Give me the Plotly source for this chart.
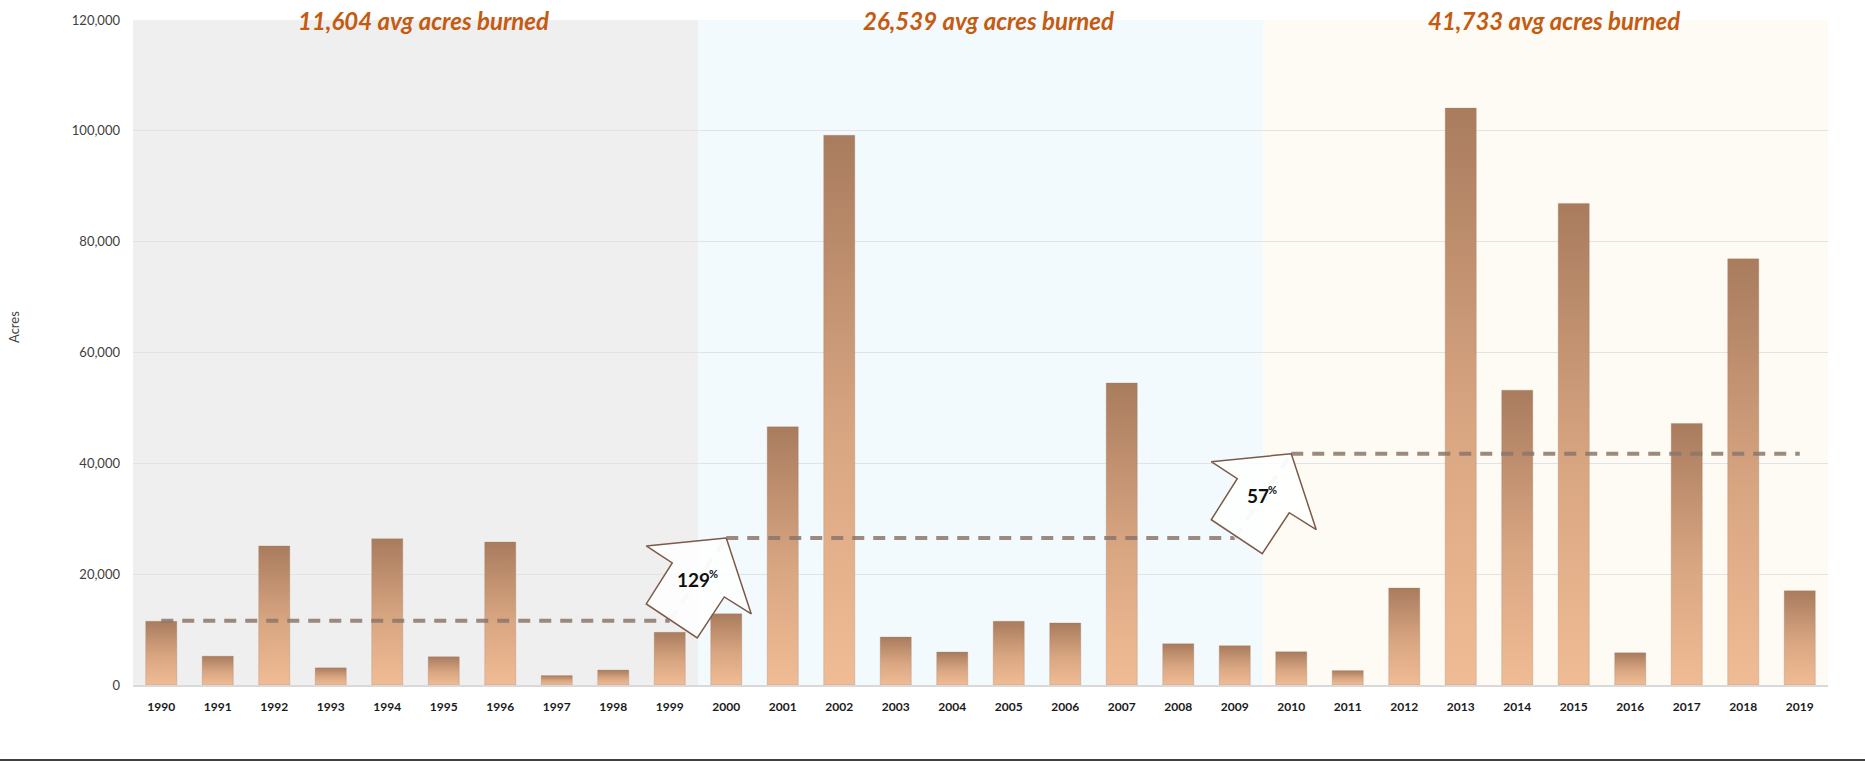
import plotly.graph_objects as go

# ---------------- data ----------------
years = [str(y) for y in range(1990, 2020)]
acres = [11500, 5200, 25100, 3100, 26400, 5100, 25800, 1700, 2700, 9500,
         12850, 46600, 99200, 8650, 5950, 11500, 11200, 54500, 7450, 7100,
         6000, 2600, 17500, 104100, 53200, 86900, 5800, 47200, 76900, 17000]
decade_avgs = [11604, 26539, 41733]
decade_titles = ["11,604 avg acres burned", "26,539 avg acres burned", "41,733 avg acres burned"]
decade_changes = ["129", "57"]
decade_size = 10
y_tickvals = [0, 20000, 40000, 60000, 80000, 100000, 120000]
y_ticktext = ["0", "20,000", "40,000", "60,000", "80,000", "100,000", "120,000"]
y_title = "Acres"

# ---------------- style ----------------
W, H = 1865, 764
M_L, M_R, M_T, M_B = 133, 37, 20, 79
Y_MAX = 120000
BAR_W = 0.55
FONT = "Lato"
decade_bg = ["#efefef", "#f2fafd", "#fdfbf3"]
bar_scale = [[0, "#efbc95"], [0.45, "#d9a682"], [1, "#a97c5e"]]
avg_color = "rgba(140,118,106,0.85)"
title_color = "#c55a11"

PW = W - M_L - M_R
PH = H - M_T - M_B
px_per_x = PW / len(years)
px_per_y = PH / Y_MAX


def px_to_dx(p):
    return p / px_per_x


def px_to_dy(p):
    return -p / px_per_y


# block-arrow outline in pixels relative to its tip (right, down)
ARROW_PX = [(0, 0), (25, 76), (-2, 59), (-29, 100), (-80, 66), (-54, 25), (-80, 8), (0, 0)]
ARROW_TEXT_PX = (-33, 42)

fig = go.Figure()

# bars with vertical gradient
for i, v in enumerate(acres):
    x0, x1 = i - BAR_W / 2, i + BAR_W / 2
    fig.add_trace(go.Scatter(
        x=[x0, x1, x1, x0, x0], y=[0, 0, v, v, 0],
        mode="lines", fill="toself",
        line=dict(width=1, color="rgba(150,120,100,0.25)"),
        fillgradient=dict(type="vertical", colorscale=bar_scale, start=0, stop=v),
        hoverinfo="text", text=f"{years[i]}: {v:,}", showlegend=False,
    ))

# decade averages (dashed)
for d, avg in enumerate(decade_avgs):
    s = d * decade_size
    e = s + decade_size - 1
    fig.add_trace(go.Scatter(
        x=[s, e], y=[avg, avg], mode="lines",
        line=dict(color=avg_color, width=4, dash="12px,9px"),
        hoverinfo="skip", showlegend=False,
    ))

# connectors + arrows
for d in range(len(decade_avgs) - 1):
    e = d * decade_size + decade_size - 1
    s_next = e + 1
    fig.add_trace(go.Scatter(
        x=[e, s_next], y=[decade_avgs[d], decade_avgs[d + 1]], mode="lines",
        line=dict(color="#d6d6d6", width=4, dash="12px,9px"),
        hoverinfo="skip", showlegend=False,
    ))
    tip_x, tip_y = s_next, decade_avgs[d + 1]
    fig.add_trace(go.Scatter(
        x=[tip_x + px_to_dx(p[0]) for p in ARROW_PX],
        y=[tip_y + px_to_dy(p[1]) for p in ARROW_PX],
        mode="lines", fill="toself", fillcolor="rgba(255,255,255,0.85)",
        line=dict(color="#7b5a48", width=1.5),
        hoverinfo="skip", showlegend=False,
    ))
    tx = tip_x + px_to_dx(ARROW_TEXT_PX[0])
    ty = tip_y + px_to_dy(ARROW_TEXT_PX[1])
    fig.add_annotation(
        x=tx, y=ty, text=decade_changes[d], showarrow=False,
        font=dict(family=FONT, size=19, color="#111111", weight="bold"),
        xanchor="center", yanchor="middle",
    )
    fig.add_annotation(
        x=tx, y=ty, text="%", showarrow=False,
        font=dict(family=FONT, size=11, color="#111111", weight="bold"),
        xanchor="left", yanchor="middle",
        xshift=len(decade_changes[d]) * 5.5 - 3, yshift=6,
    )

# decade background panels and titles
for d in range(len(decade_avgs)):
    s = d * decade_size - 0.5
    e = s + decade_size
    fig.add_shape(type="rect", xref="x", yref="y", x0=s, x1=e, y0=0, y1=Y_MAX,
                  fillcolor=decade_bg[d], line=dict(width=0), layer="below")
    fig.add_annotation(
        x=(s + e) / 2 + 0.15, y=Y_MAX, text=decade_titles[d],
        showarrow=False, xanchor="center", yanchor="middle",
        font=dict(family=FONT, size=24, color=title_color, weight="bold", style="italic"),
    )

# y-axis title
fig.add_annotation(
    xref="paper", yref="paper", x=(14 - M_L) / PW, y=(H - M_B - 327) / PH,
    text=y_title, textangle=-90, showarrow=False, xanchor="center",
    font=dict(family=FONT, size=13, color="#404040"),
)

# bottom rule
fig.add_shape(type="line", xref="paper", yref="paper",
              x0=-M_L / PW, x1=(W - M_L) / PW,
              y0=(H - M_B - 760) / PH, y1=(H - M_B - 760) / PH,
              line=dict(color="#404040", width=2))

fig.update_layout(
    width=W, height=H,
    margin=dict(l=M_L, r=M_R, t=M_T, b=M_B, pad=0),
    paper_bgcolor="white", plot_bgcolor="white",
    font=dict(family=FONT),
    showlegend=False,
    xaxis=dict(
        range=[-0.5, len(years) - 0.5],
        tickmode="array", tickvals=list(range(len(years))), ticktext=years,
        tickfont=dict(family=FONT, size=12, color="#1a1a1a", weight="bold"),
        showgrid=False, zeroline=False, showline=True,
        linecolor="#d9d9d9", linewidth=1.5, ticks="", ticklabelstandoff=10,
        fixedrange=True,
    ),
    yaxis=dict(
        range=[0, Y_MAX], tickmode="array", tickvals=y_tickvals, ticktext=y_ticktext,
        tickfont=dict(family=FONT, size=13, color="#404040"),
        showgrid=True, gridcolor="#e3e3e3", gridwidth=1,
        zeroline=False, showline=False, ticks="", ticklabelstandoff=12,
        fixedrange=True,
    ),
)

fig.write_html("out.html", config={"displayModeBar": False},
               post_script="document.body.style.margin='0px';document.body.style.overflow='hidden';")
